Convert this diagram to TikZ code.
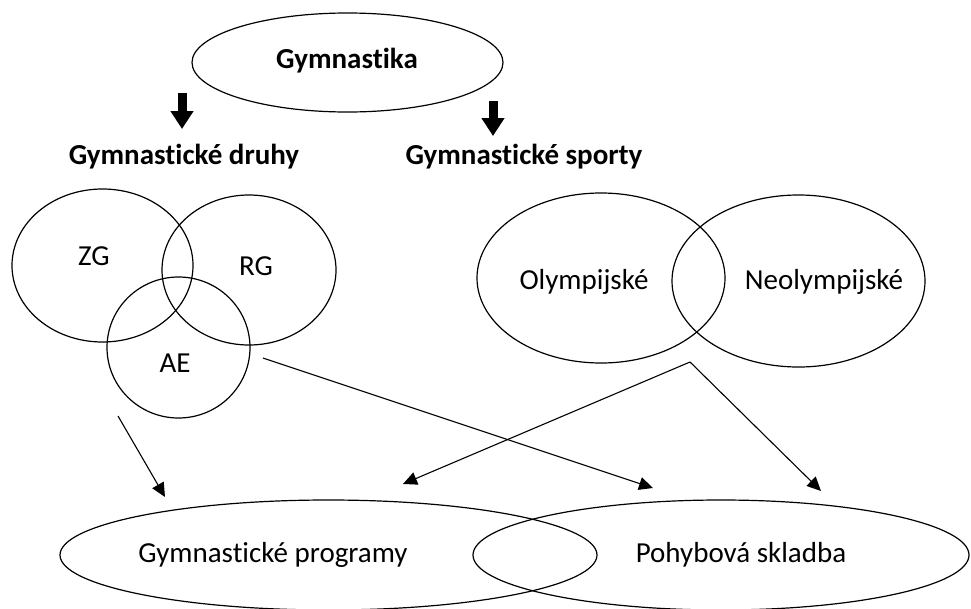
\documentclass[tikz,border=0pt]{standalone}
\usepackage{fontspec}
\setmainfont{Carlito}[Ligatures=NoCommon]
\usetikzlibrary{shapes.geometric}
\usetikzlibrary{arrows.meta}

\tikzset{
  venn/.style={draw, ellipse, line width=1.2pt, inner sep=0pt},
  lbl/.style={font=\fontsize{29}{34}\selectfont, inner sep=0pt},
  hdr/.style={font=\fontsize{29}{34}\selectfont\bfseries, inner sep=0pt},
  thinarrow/.style={-{Triangle[length=14pt,width=13pt]}, line width=1.1pt},
  fatarrow/.style={-{Triangle[length=18pt,width=22pt]}, line width=9pt}
}

\begin{document}
\begin{tikzpicture}[x=1pt,y=-1pt]
          \useasboundingbox (0,0) rectangle (971,608);
          % top
          \node[venn, minimum width=311pt, minimum height=99pt] (gym) at (347.5,62.5) {};
          \node[hdr] (gymt) at (347,61) {Gymnastika};
          \node[hdr] (druhy) at (184,157) {Gymnastické druhy};
          \node[hdr] (sporty) at (524,157) {Gymnastické sporty};
          \coordinate (ld) at (182,93);
          \coordinate (ldt) at (182,129);
          \coordinate (rd) at (493,101);
          \coordinate (rdt) at (493,136);
          \draw[fatarrow] (ld) -- (ldt);
          \draw[fatarrow] (rd) -- (rdt);

          % druhy
          \node[venn, minimum width=181pt, minimum height=153pt] (zg) at (102.5,265.5) {};
          \node[venn, minimum width=174pt, minimum height=150pt] (rg) at (249,270) {};
          \node[venn, minimum width=143pt, minimum height=141pt] (ae) at (178.5,347.5) {};
          \node[lbl] (zgt) at (94,256) {ZG};
          \node[lbl] (rgt) at (256,266) {RG};
          \node[lbl] (aet) at (175,363) {AE};

          % sporty
          \node[venn, minimum width=248pt, minimum height=170pt] (oly) at (601,278) {};
          \node[venn, minimum width=253pt, minimum height=172pt] (neo) at (798.5,281) {};
          \node[lbl] (olyt) at (584,282) {Olympijské};
          \node[lbl] (neot) at (824,282) {Neolympijské};

          % bottom
          \node[venn, minimum width=537pt, minimum height=110pt] (prog) at (328.5,555) {};
          \node[venn, minimum width=496pt, minimum height=110pt] (sklad) at (721,555) {};
          \node[lbl] (progt) at (273,555) {Gymnastické programy};
          \node[lbl] (skladt) at (741,555) {Pohybová skladba};

          \coordinate (aeo) at (118,416);
          \coordinate (aer) at (263,358);
          \coordinate (spo) at (690,362);
          \coordinate (pt1) at (165,497);
          \coordinate (pt2) at (403,484);
          \coordinate (st1) at (653,488);
          \coordinate (st2) at (821,491);
          \draw[thinarrow] (aeo) -- (pt1);
          \draw[thinarrow] (aer) -- (st1);
          \draw[thinarrow] (spo) -- (pt2);
          \draw[thinarrow] (spo) -- (st2);
        \end{tikzpicture}
\end{document}
